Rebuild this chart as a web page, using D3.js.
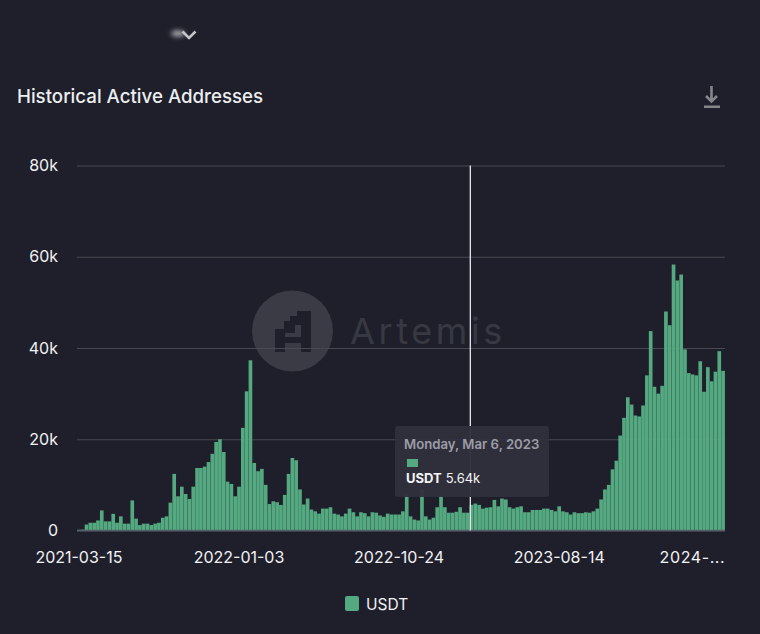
<!DOCTYPE html>
<html>
<head>
<meta charset="utf-8">
<script src="https://cdn.jsdelivr.net/npm/d3@7"></script>
<style>
  html, body { margin: 0; padding: 0; background: #1f1f2b; }
  svg { display: block; font-family: Inter, "Noto Sans", sans-serif; }
  .domain { display: none; }
</style>
</head>
<body>
<div id="chart"></div>
<script>
var svgWidth = 760;
var svgHeight = 634;

// weekly values in thousands
var usdt = [
  0.15, 0.2, 1.3, 1.7, 1.7, 2.2, 4.4, 2, 2, 3.65,
  1.7, 3.1, 1.5, 1.5, 6.6, 2.6, 1.2, 1.5, 1.5, 1.2,
  1.5, 1.7, 2.8, 3.1, 6.1, 12.4, 7.5, 9.6, 8, 6.9,
  9.6, 13.7, 13.7, 14, 15, 16.8, 19.4, 20, 17.2, 10.7,
  10.2, 7.5, 9.6, 22.5, 30.5, 37.3, 14.8, 13, 13.5, 10,
  5.8, 6.4, 6.2, 5.6, 7.8, 12.4, 15.9, 15.4, 9, 5.7,
  7, 4.6, 4.2, 3.7, 4.8, 4.8, 5.1, 3.7, 3.5, 3.1,
  3.7, 4.8, 4, 3.1, 4, 3.8, 3.1, 4, 3.9, 3.3,
  3, 3.7, 3.5, 3.5, 3.5, 4.2, 8, 3.1, 2.4, 2.2,
  9, 3.1, 2.4, 2.8, 5.1, 7.5, 5.1, 3.9, 3.9, 4.1,
  5.1, 3.9, 3.9, 5.64, 5.9, 5.6, 4.8, 5, 5.1, 6.7,
  5.3, 7, 6.8, 5.1, 4.8, 5.1, 5.3, 4, 4, 4.5,
  4.5, 4.5, 4.8, 4.8, 4.5, 4.2, 5.3, 4.2, 4, 3.5,
  4, 3.8, 3.8, 4, 3.9, 4.2, 4.8, 6.8, 9, 10,
  13.4, 15.3, 20.8, 24.7, 29.2, 27.6, 25.2, 25, 27.4, 34,
  43.7, 31.5, 30, 31.7, 48, 45, 58.3, 54.8, 56.1, 39.7,
  34.5, 34.2, 34, 37.1, 30.4, 35.8, 32.7, 34.8, 39.3, 35
];

var firstWeek = new Date(Date.UTC(2021, 2, 15));
var xTickWeeks = [0, 42, 84, 126, 168];
var xTickLabels = ["2021-03-15", "2022-01-03", "2022-10-24", "2023-08-14", "2024-..."];
var yTicks = [0, 20, 40, 60, 80];
var hoverWeek = 103;

var weeks = usdt.map(function(d, i) { return d3.utcDay.offset(firstWeek, i * 7); });

var margin = { top: 165.5, right: 35, bottom: 103.5, left: 77 };
var width = svgWidth - margin.left - margin.right;
var height = svgHeight - margin.top - margin.bottom;

var svg = d3.select("#chart")
  .append("svg")
  .attr("width", svgWidth)
  .attr("height", svgHeight);

var smudge = svg.append("defs").append("filter")
  .attr("id", "smudge")
  .attr("x", "-100%").attr("y", "-300%")
  .attr("width", "300%").attr("height", "700%");
smudge.append("feGaussianBlur").attr("stdDeviation", 2.6);

// blurred selector above the title
svg.append("ellipse")
  .attr("cx", 178).attr("cy", 33.5).attr("rx", 7).attr("ry", 3)
  .attr("fill", "#b4b4bb")
  .attr("filter", "url(#smudge)");
svg.append("path")
  .attr("d", "M182.5 31.5 L189 38 L195.5 31.5")
  .attr("fill", "none")
  .attr("stroke", "#c4c4ca")
  .attr("stroke-width", 2.6);

svg.append("text")
  .attr("x", 17)
  .attr("y", 103)
  .attr("fill", "#eceef0")
  .attr("font-size", 18.7)
  .attr("font-weight", 500)
  .text("Historical Active Addresses");

// download icon
svg.append("path")
  .attr("d", "M711.5 86 V101 M706 96 L711.5 101.5 L717 96")
  .attr("fill", "none")
  .attr("stroke", "#85858c")
  .attr("stroke-width", 2.6);
svg.append("rect")
  .attr("x", 704).attr("y", 105.5).attr("width", 16).attr("height", 2.5)
  .attr("fill", "#85858c");

// watermark
svg.append("circle")
  .attr("cx", 292.5).attr("cy", 331).attr("r", 40.5)
  .attr("fill", "#3b3b46");
svg.append("path")
  .attr("d", "M275 329 H284 V321 H290 V316 H297 V311 H311 V352 H301 V343 H285 V352 H275 Z M285 333 V337 H301 V325 H295 V333 Z")
  .attr("fill", "#1f1f2b")
  .attr("fill-rule", "evenodd");
svg.append("text")
  .attr("x", 350)
  .attr("y", 344)
  .attr("fill", "#383843")
  .attr("font-size", 36)
  .attr("letter-spacing", 3.6)
  .text("Artemis");

var chartGroup = svg.append("g")
  .attr("transform", `translate(${margin.left}, ${margin.top})`);

var xBandScale = d3.scaleBand()
  .domain(weeks)
  .range([0, width])
  .paddingInner(0.04)
  .paddingOuter(0.02);

var yLinearScale = d3.scaleLinear()
  .domain([0, 80])
  .range([height, 0]);

var leftAxis = d3.axisLeft(yLinearScale)
  .tickValues(yTicks)
  .tickSize(-width)
  .tickPadding(19)
  .tickFormat(function(d) { return d === 0 ? "0" : d + "k"; });

var yAxisGroup = chartGroup.append("g").call(leftAxis);
yAxisGroup.selectAll("line")
  .attr("stroke", "#484852")
  .attr("stroke-width", 1.2);
yAxisGroup.selectAll("text")
  .attr("fill", "#f2f2f4")
  .attr("font-size", 16)
  .attr("font-family", "Inter");

chartGroup.selectAll(".bar")
  .data(usdt)
  .enter()
  .append("rect")
  .attr("class", "bar")
  .attr("x", function(d, i) { return xBandScale(weeks[i]); })
  .attr("y", function(d) { return yLinearScale(d); })
  .attr("width", xBandScale.bandwidth())
  .attr("height", function(d) { return height - yLinearScale(d); })
  .attr("fill", "#54a981");

var bottomAxis = d3.axisBottom(xBandScale)
  .tickValues(xTickWeeks.map(function(i) { return weeks[i]; }))
  .tickSize(0)
  .tickPadding(21.5)
  .tickFormat(function(d, i) { return xTickLabels[i]; });

var xAxisGroup = chartGroup.append("g")
  .attr("transform", `translate(0, ${height})`)
  .call(bottomAxis);
xAxisGroup.selectAll("text")
  .attr("fill", "#f2f2f4")
  .attr("font-size", 16)
  .attr("font-family", "Inter");
// last label gets cut short and pushed against the right edge
xAxisGroup.selectAll("text")
  .filter(function(d, i) { return i === xTickLabels.length - 1; })
  .attr("text-anchor", "end")
  .attr("letter-spacing", 0.6)
  .attr("dx", 6);

// zero line sits over the bars
chartGroup.append("line")
  .attr("x1", 0).attr("x2", width)
  .attr("y1", height).attr("y2", height)
  .attr("stroke", "#55606a")
  .attr("stroke-width", 1.6);

// crosshair and tooltip
var hoverX = xBandScale(weeks[hoverWeek]) + xBandScale.bandwidth() / 2 - 1.2;
chartGroup.append("line")
  .attr("x1", hoverX).attr("x2", hoverX)
  .attr("y1", 0).attr("y2", height)
  .attr("stroke", "#e8e8ec")
  .attr("stroke-width", 1.3);

var tip = svg.append("g").attr("transform", "translate(395, 426)");
tip.append("rect")
  .attr("width", 154).attr("height", 71).attr("rx", 3)
  .attr("fill", "#30303d")
  .attr("fill-opacity", 0.96);
tip.append("text")
  .attr("x", 9).attr("y", 23)
  .attr("fill", "#9c9ca6")
  .attr("font-size", 13.2)
  .attr("font-weight", 600)
  .text("Monday, Mar 6, 2023");
tip.append("rect")
  .attr("x", 12).attr("y", 33).attr("width", 11).attr("height", 8)
  .attr("fill", "#54a981");
var tipLine = tip.append("text")
  .attr("x", 11).attr("y", 57)
  .attr("fill", "#f4f4f6")
  .attr("font-size", 13);
tipLine.append("tspan").attr("font-weight", 700).text("USDT");
tipLine.append("tspan").attr("dx", 4).text(usdt[hoverWeek] + "k");

// legend
svg.append("rect")
  .attr("x", 345).attr("y", 596).attr("width", 14).attr("height", 15).attr("rx", 2)
  .attr("fill", "#54a981");
svg.append("text")
  .attr("x", 366).attr("y", 609.5)
  .attr("fill", "#f2f2f4")
  .attr("font-size", 15.5)
  .text("USDT");
</script>
</body>
</html>
